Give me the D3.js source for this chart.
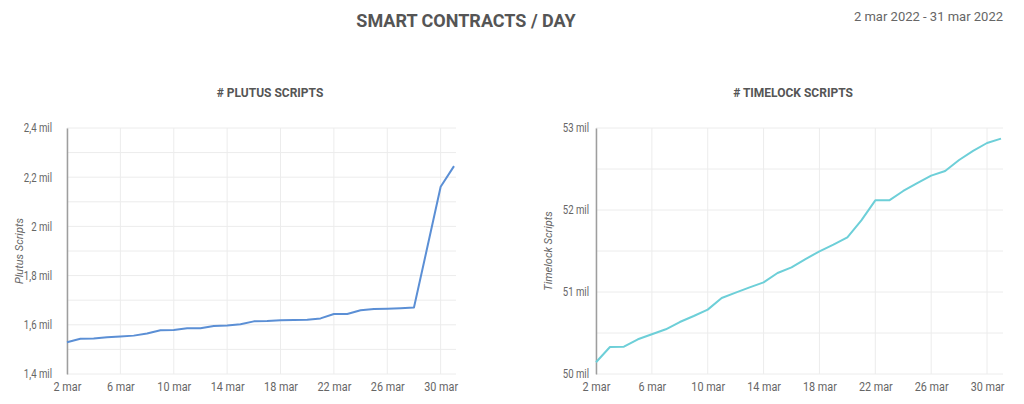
<!DOCTYPE html>
<html>
<head>
<meta charset="utf-8">
<script src="https://cdn.jsdelivr.net/npm/d3@7"></script>
<style>
  body { margin: 0; background: #fff; }
  svg { display: block; font-family: Roboto, "Noto Sans", sans-serif; }
</style>
</head>
<body>
<script>
const width = 1024;
const height = 404;

// días del mes (2 mar - 31 mar 2022)
const days = d3.range(2, 32);

const plutusValues = [1529, 1543, 1544, 1549, 1552, 1556, 1565, 1578, 1579, 1586,
  1586, 1595, 1597, 1602, 1614, 1615, 1618, 1620, 1621, 1626,
  1644, 1644, 1659, 1664, 1665, 1667, 1670, 1915, 2161, 2245];

const timelockValues = [50143, 50329, 50333, 50423, 50484, 50545, 50634, 50707, 50785, 50927,
  50992, 51057, 51118, 51232, 51301, 51402, 51496, 51577, 51667, 51874,
  52118, 52118, 52232, 52329, 52419, 52476, 52610, 52720, 52817, 52870];

const plutusTicks = [1400, 1600, 1800, 2000, 2200, 2400];
const plutusGrid = d3.range(1400, 2401, 100);
const timelockTicks = [50000, 51000, 52000, 53000];
const timelockGrid = d3.range(50000, 53001, 500);

const locale = d3.formatLocale({decimal: ",", thousands: ".", grouping: [3], currency: ["", "€"]});
const fmtMil = v => locale.format("~g")(v / 1000) + " mil";

const svg = d3.select("body").append("svg")
  .attr("width", width)
  .attr("height", height);

// títulos
svg.append("text")
  .attr("x", 466).attr("y", 27)
  .attr("text-anchor", "middle")
  .attr("fill", "#555")
  .attr("font-size", 18)
  .attr("font-weight", "bold")
  .text("SMART CONTRACTS / DAY");

svg.append("text")
  .attr("x", 1003).attr("y", 21)
  .attr("text-anchor", "end")
  .attr("fill", "#666")
  .attr("font-size", 13)
  .text("2 mar 2022 - 31 mar 2022");

// texto algo más estrecho, como la fuente condensada del original
function condense(sel, k) {
  sel.each(function() {
    const len = this.getComputedTextLength();
    d3.select(this)
      .attr("textLength", len * k)
      .attr("lengthAdjust", "spacingAndGlyphs");
  });
}

function drawChart(opts) {
  const data = days.map((d, i) => ({date: new Date(2022, 2, d), value: opts.values[i]}));

  const x = d3.scaleTime()
    .domain([new Date(2022, 2, 2), new Date(2022, 2, 31)])
    .range([opts.left, opts.right]);
  const y = d3.scaleLinear()
    .domain(opts.domain)
    .range([374, 128]);

  const g = svg.append("g");

  g.append("text")
    .attr("x", opts.titleX).attr("y", 97)
    .attr("text-anchor", "middle")
    .attr("fill", "#555")
    .attr("font-size", 12)
    .attr("font-weight", "bold")
    .text(opts.title);

  // rejilla horizontal
  g.append("g").selectAll("line")
    .data(opts.grid)
    .join("line")
      .attr("x1", opts.left).attr("x2", opts.right + 2)
      .attr("y1", d => y(d)).attr("y2", d => y(d))
      .attr("stroke", "#ececec");

  // rejilla vertical + etiquetas de fecha
  const xTicks = data.filter((d, i) => i % 4 === 0).map(d => d.date);
  g.append("g").selectAll("line")
    .data(xTicks)
    .join("line")
      .attr("x1", d => x(d)).attr("x2", d => x(d))
      .attr("y1", 128).attr("y2", 374)
      .attr("stroke", "#ececec");

  const xAxis = d3.axisBottom(x)
    .tickValues(xTicks)
    .tickSize(0)
    .tickPadding(8)
    .tickFormat(d => d.getDate() + " mar");
  g.append("g")
    .attr("transform", "translate(0,374)")
    .call(xAxis)
    .call(s => s.select(".domain").remove())
    .call(s => s.selectAll("text").attr("fill", "#666").attr("font-size", 12).attr("font-family", "Roboto"))
    .call(s => condense(s.selectAll("text"), 0.9));

  const yAxis = d3.axisLeft(y)
    .tickValues(opts.ticks)
    .tickSize(0)
    .tickPadding(opts.pad)
    .tickFormat(fmtMil);
  g.append("g")
    .attr("transform", `translate(${opts.left},0)`)
    .call(yAxis)
    .call(s => s.select(".domain").attr("stroke", "#9e9e9e").attr("stroke-width", 1.5))
    .call(s => s.selectAll("text").attr("fill", "#666").attr("font-size", 12).attr("font-family", "Roboto"))
    .call(s => condense(s.selectAll("text"), 0.8));

  g.append("text")
    .attr("transform", `translate(${opts.left - 44},251) rotate(-90)`)
    .attr("text-anchor", "middle")
    .attr("fill", "#666")
    .attr("font-size", 11)
    .attr("font-style", "italic")
    .text(opts.yLabel);

  const line = d3.line()
    .x(d => x(d.date))
    .y(d => y(d.value));

  g.append("path")
    .datum(data)
    .attr("fill", "none")
    .attr("stroke", opts.color)
    .attr("stroke-width", 2)
    .attr("stroke-linejoin", "round")
    .attr("d", line);
}

drawChart({
  title: "# PLUTUS SCRIPTS", titleX: 270,
  yLabel: "Plutus Scripts",
  values: plutusValues, domain: [1400, 2400],
  ticks: plutusTicks, grid: plutusGrid,
  left: 67, right: 454, pad: 15,
  color: "#5b8fd5"
});

drawChart({
  title: "# TIMELOCK SCRIPTS", titleX: 793,
  yLabel: "Timelock Scripts",
  values: timelockValues, domain: [50000, 53000],
  ticks: timelockTicks, grid: timelockGrid,
  left: 596, right: 1001, pad: 7,
  color: "#6dcfd8"
});
</script>
</body>
</html>
